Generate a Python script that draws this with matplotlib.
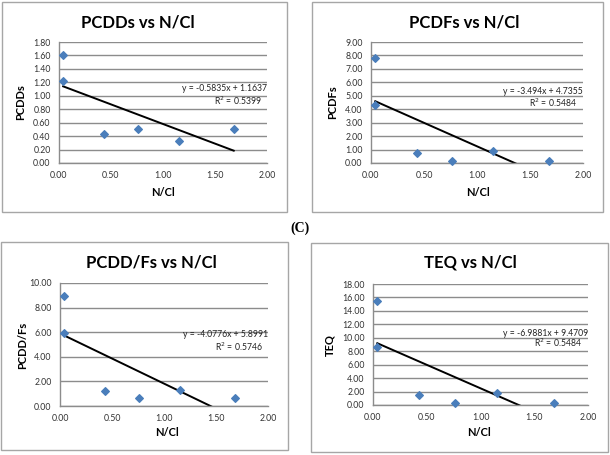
import numpy as np
import matplotlib
matplotlib.use("Agg")
import matplotlib.pyplot as plt
from matplotlib.patches import Rectangle

# N/Cl ratio (x) shared by all four panels
n_cl = [0.04, 0.04, 0.43, 0.76, 1.15, 1.68]

pcdds = [1.60, 1.22, 0.43, 0.50, 0.33, 0.50]
pcdfs = [7.80, 4.35, 0.72, 0.12, 0.92, 0.12]
pcdd_fs = [8.96, 5.97, 1.20, 0.68, 1.28, 0.68]
teq = [15.5, 8.70, 1.50, 0.25, 1.83, 0.25]

# trendline coefficients as printed on the chart
slopes = [-0.5835, -3.494, -4.0776, -6.9881]
intercepts = [1.1637, 4.7355, 5.8991, 9.4709]
r2_values = [0.5399, 0.5484, 0.5746, 0.5484]

titles = ["PCDDs vs N/Cl", "PCDFs vs N/Cl", "PCDD/Fs vs N/Cl", "TEQ vs N/Cl"]
ylabels = ["PCDDs", "PCDFs", "PCDD/Fs", "TEQ"]
ymax = [1.8, 9.0, 10.0, 18.0]
ystep = [0.2, 1.0, 2.0, 2.0]

W, H = 610, 455
FONT = "Lato"
GRID = "#8c8c8c"
BLUE = "#4a7ebb"

# pixel layout: plot area (l, t, r, b), border box, title centre, labels, equation y (axes frac)
plot_boxes = [(59, 42, 267, 163), (371, 42, 583, 163), (60, 283, 268, 406), (373, 284, 588, 405)]
border_boxes = [(2, 2, 287, 212), (312, 2, 603, 212), (1, 242, 288, 450), (311, 243, 608, 452)]
title_pos = [(138, 23), (464, 22), (151, 263), (470, 263)]
ylab_pos = [(21, 102), (333, 102), (23, 345), (330, 345)]
xlab_pos = [(163, 192), (478, 192), (167, 432), (479, 432)]
eq_y = [(0.615, 0.51), (0.595, 0.50), (0.585, 0.48), (0.595, 0.51)]

fig = plt.figure(figsize=(W / 100, H / 100), dpi=100)


def px(x, y):
    return x / W, 1 - y / H


series = [pcdds, pcdfs, pcdd_fs, teq]
for i in range(4):
    bl, bt, br, bb = border_boxes[i]
    fig.patches.append(Rectangle(px(bl, bb), (br - bl) / W, (bb - bt) / H,
                                 transform=fig.transFigure, fill=False,
                                 edgecolor="#a6a6a6", lw=1.0))

    l, t, r, b = plot_boxes[i]
    ax = fig.add_axes([l / W, 1 - b / H, (r - l) / W, (b - t) / H])
    ax.set_xlim(0, 2.0)
    ax.set_ylim(0, ymax[i])
    ax.set_xticks(np.arange(0, 2.01, 0.5))
    ax.set_yticks(np.arange(0, ymax[i] + 1e-9, ystep[i]))
    ax.xaxis.set_major_formatter(matplotlib.ticker.FormatStrFormatter("%.2f"))
    ax.yaxis.set_major_formatter(matplotlib.ticker.FormatStrFormatter("%.2f"))
    ax.tick_params(length=0, labelsize=6.3, labelcolor="#333333", pad=6)
    for lab in ax.get_xticklabels() + ax.get_yticklabels():
        lab.set_fontfamily(FONT)
    ax.grid(axis="y", color=GRID, lw=1.0)
    ax.set_axisbelow(True)
    for s in ["top", "right"]:
        ax.spines[s].set_visible(False)
    for s in ["left", "bottom"]:
        ax.spines[s].set_color(GRID)
        ax.spines[s].set_linewidth(1.0)

    ax.scatter(n_cl, series[i], marker="D", s=15, color=BLUE, zorder=3, clip_on=False)

    xs = np.array([min(n_cl), max(n_cl)])
    ax.plot(xs, slopes[i] * xs + intercepts[i], color="black", lw=1.4, zorder=2)

    ax.text(1.0, eq_y[i][0], f"y = {slopes[i]}x + {intercepts[i]}", transform=ax.transAxes,
            ha="right", va="center", fontsize=6.2, family=FONT, color="#222222")
    ax.text(0.86, eq_y[i][1], f"R$^2$ = {r2_values[i]}", transform=ax.transAxes,
            ha="center", va="center", fontsize=6.2, family=FONT, color="#222222")

    fig.text(*px(*title_pos[i]), titles[i], ha="center", va="center",
             fontsize=12, fontweight="bold", family=FONT)
    fig.text(*px(*ylab_pos[i]), ylabels[i], ha="center", va="center", rotation=90,
             fontsize=8, fontweight="bold", family=FONT)
    fig.text(*px(*xlab_pos[i]), "N/Cl", ha="center", va="center",
             fontsize=8, fontweight="bold", family=FONT)

fig.text(*px(300, 228), "(C)", ha="center", va="center", fontsize=10,
         fontweight="bold", family="Liberation Serif")

fig.savefig("out.png", dpi=100)
